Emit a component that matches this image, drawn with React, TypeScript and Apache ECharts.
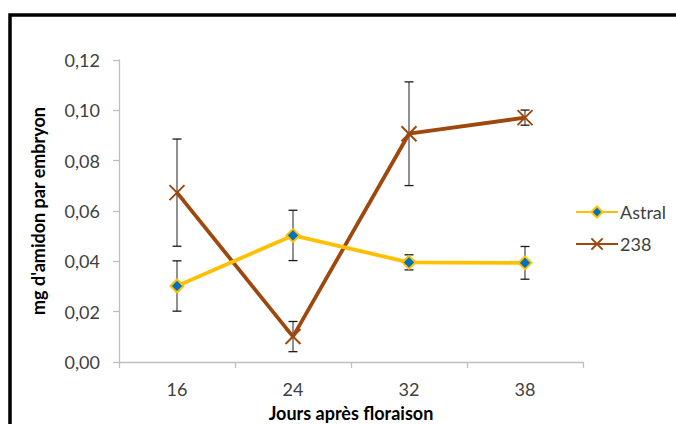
import React, { useEffect, useRef } from "react";
import * as echarts from "echarts";

const categories = ["16", "24", "32", "38"];
const astralValues = [0.0302, 0.0503, 0.0396, 0.0394];
const astralErrors = [0.01, 0.01, 0.003, 0.0065];
const l238Values = [0.0673, 0.0101, 0.0907, 0.0971];
const l238Errors = [0.0213, 0.006, 0.0206, 0.003];
const yTicks = { min: 0, max: 0.12, interval: 0.02 };

const FONT = "Lato";

function errorData(values: number[], errors: number[]) {
  return values.map((v, i) => [i, v - errors[i], v + errors[i]]);
}

function renderError(params: any, api: any) {
  const x = api.value(0);
  const lo = api.coord([x, api.value(1)]);
  const hi = api.coord([x, api.value(2)]);
  const cap = 4.5;
  const style = { stroke: "#555555", lineWidth: 1.3 };
  const capStyle = { stroke: "#1a1a1a", lineWidth: 1.3 };
  return {
    type: "group",
    children: [
      { type: "line", shape: { x1: hi[0], y1: hi[1], x2: lo[0], y2: lo[1] }, style },
      { type: "line", shape: { x1: hi[0] - cap, y1: hi[1], x2: hi[0] + cap, y2: hi[1] }, style: capStyle },
      { type: "line", shape: { x1: lo[0] - cap, y1: lo[1], x2: lo[0] + cap, y2: lo[1] }, style: capStyle },
    ],
  };
}

export default function App() {
  const ref = useRef<HTMLDivElement>(null);
  useEffect(() => {
    if (!ref.current) return;
    const chart = echarts.init(ref.current, null, { renderer: "svg" });
    chart.setOption({
      animation: false,
      textStyle: { fontFamily: FONT },
      graphic: [
        {
          type: "rect",
          shape: { x: 10, y: 15, width: 720, height: 460 },
          style: { fill: "none", stroke: "#000", lineWidth: 3.5 },
          silent: true,
          z: 100,
        },
      ],
      grid: { left: 119, top: 60, right: 93, bottom: 62, containLabel: false, outerBoundsMode: "none" },
      legend: {
        orient: "vertical",
        left: 575,
        top: 203,
        padding: 0,
        itemWidth: 42,
        itemHeight: 14,
        itemGap: 14,
        data: ["Astral", "238"],
        textStyle: { fontFamily: FONT, fontSize: 18, color: "#404040", padding: [0, 0, 0, -3] },
      },
      xAxis: {
        type: "category",
        data: categories,
        boundaryGap: true,
        name: "Jours après floraison",
        nameLocation: "middle",
        nameGap: 42,
        nameTextStyle: { fontFamily: FONT, fontWeight: "bold", fontSize: 18, lineHeight: 18, color: "#000" },
        axisLine: { lineStyle: { color: "#BFBFBF", width: 1.3 } },
        axisTick: { show: true, length: 6, lineStyle: { color: "#BFBFBF", width: 1.3 } },
        axisLabel: { margin: 18, fontFamily: FONT, fontSize: 18, color: "#404040" },
        splitLine: { show: false },
      },
      yAxis: {
        type: "value",
        min: yTicks.min,
        max: yTicks.max,
        interval: yTicks.interval,
        name: "mg d'amidon par embryon",
        nameLocation: "middle",
        nameGap: 72,
        nameTextStyle: { fontFamily: FONT, fontWeight: "bold", fontSize: 18, color: "#000" },
        axisLine: { show: true, lineStyle: { color: "#BFBFBF", width: 1.3 } },
        axisTick: { show: true, length: 6, lineStyle: { color: "#BFBFBF", width: 1.3 } },
        axisLabel: {
          margin: 19,
          fontFamily: FONT,
          fontSize: 18,
          color: "#404040",
          formatter: (v: number) => v.toFixed(2).replace(".", ","),
        },
        splitLine: { show: false },
      },
      series: [
        {
          type: "custom",
          name: "errAstral",
          renderItem: renderError,
          data: errorData(astralValues, astralErrors),
          z: 1,
          silent: true,
        },
        {
          type: "custom",
          name: "err238",
          renderItem: renderError,
          data: errorData(l238Values, l238Errors),
          z: 1,
          silent: true,
        },
        {
          name: "Astral",
          type: "line",
          data: astralValues,
          z: 3,
          symbol: "diamond",
          symbolSize: 13,
          lineStyle: { color: "#FFC000", width: 3.8 },
          itemStyle: { color: "#0070C0", borderColor: "#FFC000", borderWidth: 2 },
        },
        {
          name: "238",
          type: "line",
          data: l238Values,
          z: 2,
          symbol: "path://M0,0L10,10M10,0L0,10",
          symbolSize: 15,
          lineStyle: { color: "#9E480E", width: 3.8 },
          itemStyle: { color: "none", borderColor: "#9E480E", borderWidth: 2 },
        },
      ],
    });
    return () => chart.dispose();
  }, []);
  return (
    <div style={{ position: "fixed", left: 0, top: 0, width: 676, height: 424, background: "#fff" }}>
      <div ref={ref} style={{ width: 676, height: 424 }} />
    </div>
  );
}
